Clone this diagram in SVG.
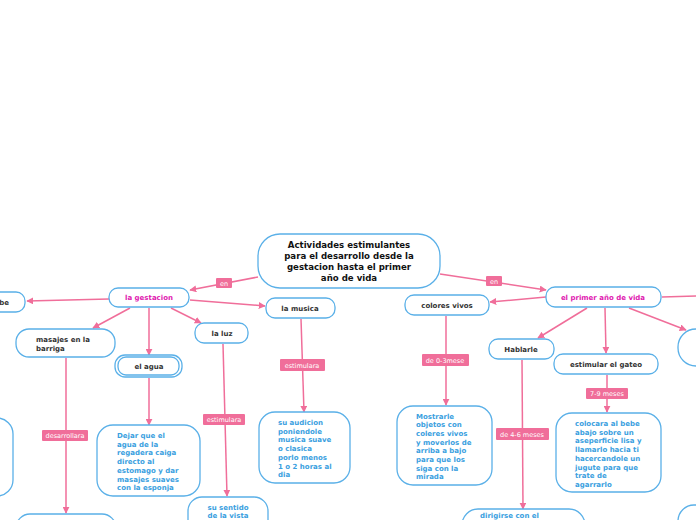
<svg xmlns="http://www.w3.org/2000/svg" width="696" height="520" viewBox="0 0 696 520">
<defs>
<marker id="ah" viewBox="0 0 10 10" refX="9" refY="5" markerWidth="7" markerHeight="7" markerUnits="userSpaceOnUse" orient="auto">
<path d="M0,0 L10,5 L0,10 z" fill="#f06e9a"/>
</marker>
<style>
.n{fill:#fff;stroke:#5ab0e8;stroke-width:1.3}
.c{stroke:#f06e9a;stroke-width:1.5;fill:none;marker-end:url(#ah)}
.cn{stroke:#f06e9a;stroke-width:1.5;fill:none}
.t{font-family:"DejaVu Sans",Verdana,sans-serif;font-weight:bold;font-size:7px;fill:#333;text-anchor:middle}
.ts{font-family:"DejaVu Sans",Verdana,sans-serif;font-weight:bold;font-size:7px;fill:#333;text-anchor:start}
.m{font-family:"DejaVu Sans",Verdana,sans-serif;font-weight:bold;font-size:7px;fill:#e020b0;text-anchor:middle}
.b{font-family:"DejaVu Sans",Verdana,sans-serif;font-weight:bold;font-size:7px;fill:#3aa0e0}
.h{font-family:"DejaVu Sans",Verdana,sans-serif;font-weight:bold;font-size:8.6px;fill:#111;text-anchor:middle}
.lb{fill:#f06e9a}
.lt{font-family:"DejaVu Sans",Verdana,sans-serif;font-size:6.5px;fill:#fff;text-anchor:middle}
</style>
</defs>
<rect width="696" height="520" fill="#fff"/>
<g id="connectors">
<line class="c" x1="258" y1="277" x2="190" y2="290"/>
<line class="c" x1="440" y1="274" x2="546" y2="290"/>
<line class="c" x1="109" y1="299" x2="27" y2="301"/>
<line class="c" x1="130" y1="308" x2="93" y2="328"/>
<line class="c" x1="149" y1="308" x2="149" y2="355"/>
<line class="c" x1="171" y1="308" x2="201" y2="323"/>
<line class="c" x1="190" y1="300" x2="265" y2="306"/>
<line class="c" x1="66" y1="358" x2="66" y2="513"/>
<line class="c" x1="149" y1="378" x2="149" y2="425"/>
<line class="c" x1="223" y1="344" x2="227" y2="496"/>
<line class="c" x1="301" y1="319" x2="304" y2="412"/>
<line class="c" x1="546" y1="297" x2="490" y2="302"/>
<line class="c" x1="587" y1="308" x2="538" y2="338"/>
<line class="c" x1="605" y1="308" x2="606" y2="353"/>
<line class="c" x1="629" y1="308" x2="686" y2="330"/>
<line class="cn" x1="662" y1="297" x2="696" y2="296"/>
<line class="c" x1="446" y1="316" x2="446" y2="405"/>
<line class="c" x1="522" y1="360" x2="523" y2="509"/>
<line class="c" x1="607" y1="375" x2="607" y2="412"/>
<rect class="lb" x="216" y="278" width="16" height="10" rx="1"/>
<text class="lt" x="224" y="285.5">en</text>
<rect class="lb" x="486" y="276" width="16" height="10" rx="1"/>
<text class="lt" x="494" y="283.5">en</text>
<rect class="lb" x="42" y="430" width="46" height="11" rx="1"/>
<text class="lt" x="65" y="438">desarrollara</text>
<rect class="lb" x="203" y="414" width="42" height="11" rx="1"/>
<text class="lt" x="224" y="422">estimulara</text>
<rect class="lb" x="280" y="359" width="45" height="12" rx="1"/>
<text class="lt" x="302" y="367.5">estimulara</text>
<rect class="lb" x="422" y="354" width="47" height="12" rx="1"/>
<text class="lt" x="445" y="362.5">de 0-3mese</text>
<rect class="lb" x="496" y="428" width="53" height="12" rx="1"/>
<text class="lt" x="522" y="436.5">de 4-6 meses</text>
<rect class="lb" x="586" y="388" width="42" height="11" rx="1"/>
<text class="lt" x="607" y="396">7-9 meses</text>
</g>
<g id="central">
<rect class="n" x="258" y="234" width="182" height="54" rx="22"/>
<text class="h" x="349" y="248">Actividades estimulantes</text>
<text class="h" x="349" y="259">para el desarrollo desde la</text>
<text class="h" x="349" y="270">gestacion hasta el primer</text>
<text class="h" x="349" y="281">año de vida</text>
</g>
<g id="gestacion">
<rect class="n" x="109" y="288" width="80" height="19" rx="9"/>
<text class="m" x="149" y="300">la gestacion</text>
</g>
<g id="be">
<rect class="n" x="-20" y="292" width="45" height="20" rx="9"/>
<text class="t" x="4" y="304.5">be</text>
</g>
<g id="masajes">
<rect class="n" x="16" y="329" width="99" height="28" rx="13"/>
<text class="ts" x="36" y="342">masajes en la</text>
<text class="ts" x="36" y="351">barriga</text>
</g>
<g id="agua">
<rect class="n" x="115" y="355" width="67" height="22" rx="10"/>
<rect class="n" x="118" y="357" width="61" height="18" rx="8"/>
<text class="t" x="149" y="368.5">el agua</text>
</g>
<g id="luz">
<rect class="n" x="195" y="323" width="53" height="20" rx="9"/>
<text class="t" x="222" y="335.5">la luz</text>
</g>
<g id="musica">
<rect class="n" x="266" y="298" width="69" height="20" rx="9"/>
<text class="t" x="300" y="310.5">la musica</text>
</g>
<g id="colores">
<rect class="n" x="405" y="295" width="84" height="20" rx="9"/>
<text class="t" x="447" y="307.5">colores vivos</text>
</g>
<g id="primer">
<rect class="n" x="546" y="287" width="115" height="20" rx="9"/>
<text class="m" x="603" y="299.5">el primer año de vida</text>
</g>
<g id="hablarle">
<rect class="n" x="489" y="339" width="65" height="20" rx="9"/>
<text class="t" x="521" y="351.5">Hablarle</text>
</g>
<g id="gateo">
<rect class="n" x="554" y="354" width="104" height="20" rx="9"/>
<text class="t" x="606" y="366.5">estimular el gateo</text>
</g>
<g id="rightnode">
<rect class="n" x="678" y="329" width="60" height="37" rx="18"/>
</g>
<g id="leftbox">
<rect class="n" x="-80" y="418" width="93" height="78" rx="16"/>
</g>
<g id="dejar">
<rect class="n" x="97" y="425" width="103" height="71" rx="16"/>
<text class="b" x="117" y="438">Dejar que el</text>
<text class="b" x="117" y="446.7">agua de la</text>
<text class="b" x="117" y="455.4">regadera caiga</text>
<text class="b" x="117" y="464.1">directo al</text>
<text class="b" x="117" y="472.8">estomago y dar</text>
<text class="b" x="117" y="481.5">masajes suaves</text>
<text class="b" x="117" y="490.2">con la esponja</text>
</g>
<g id="audicion">
<rect class="n" x="259" y="412" width="91" height="71" rx="16"/>
<text class="b" x="278" y="425">su audicion</text>
<text class="b" x="278" y="433.7">poniendole</text>
<text class="b" x="278" y="442.4">musica suave</text>
<text class="b" x="278" y="451.1">o clasica</text>
<text class="b" x="278" y="459.8">porlo menos</text>
<text class="b" x="278" y="468.5">1 o 2 horas al</text>
<text class="b" x="278" y="477.2">dia</text>
</g>
<g id="mostrarle">
<rect class="n" x="397" y="406" width="95" height="79" rx="16"/>
<text class="b" x="416" y="418.5">Mostrarle</text>
<text class="b" x="416" y="427.2">objetos con</text>
<text class="b" x="416" y="435.9">coleres vivos</text>
<text class="b" x="416" y="444.6">y moverlos de</text>
<text class="b" x="416" y="453.3">arriba a bajo</text>
<text class="b" x="416" y="462">para que los</text>
<text class="b" x="416" y="470.7">siga con la</text>
<text class="b" x="416" y="479.4">mirada</text>
</g>
<g id="colocara">
<rect class="n" x="556" y="413" width="105" height="79" rx="16"/>
<text class="b" x="575" y="426">colocara al bebe</text>
<text class="b" x="575" y="434.7">abajo sobre un</text>
<text class="b" x="575" y="443.4">aseperficie lisa y</text>
<text class="b" x="575" y="452.1">llamarlo hacia ti</text>
<text class="b" x="575" y="460.8">hacercandole un</text>
<text class="b" x="575" y="469.5">jugute para que</text>
<text class="b" x="575" y="478.2">trate de</text>
<text class="b" x="575" y="486.9">agarrarlo</text>
</g>
<g id="sentido">
<rect class="n" x="188" y="497" width="80" height="50" rx="14"/>
<text class="b" x="228" y="509.5" text-anchor="middle">su sentido</text>
<text class="b" x="228" y="518" text-anchor="middle">de la vista</text>
</g>
<g id="bottomleft">
<rect class="n" x="16" y="514" width="100" height="40" rx="14"/>
</g>
<g id="dirigirse">
<rect class="n" x="462" y="509" width="123" height="40" rx="16"/>
<text class="b" x="480" y="517.5">dirigirse con el</text>
</g>
<g id="bottomright">
<rect class="n" x="678" y="505" width="60" height="40" rx="16"/>
</g>
</svg>
